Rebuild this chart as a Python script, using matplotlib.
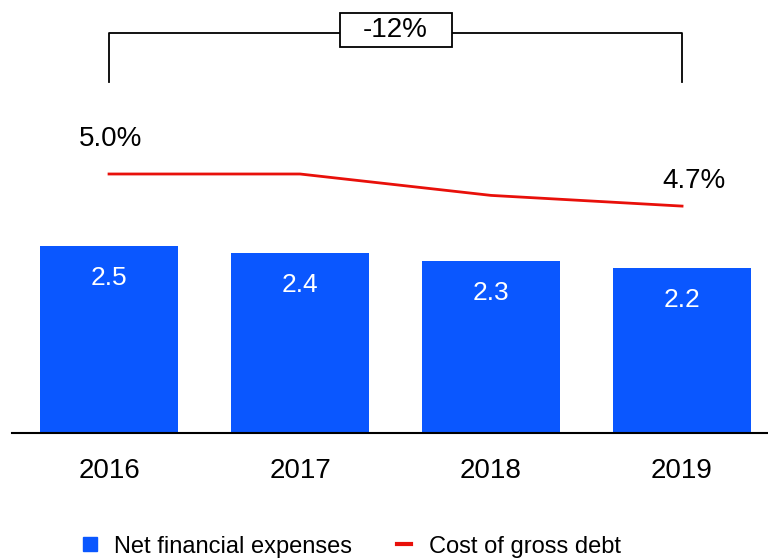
import numpy as np
import matplotlib
matplotlib.use("Agg")
import matplotlib.pyplot as plt
from matplotlib.lines import Line2D
from matplotlib.patches import Rectangle
import matplotlib.transforms as mtransforms

plt.rcParams['font.family'] = ['Liberation Sans', 'DejaVu Sans']

# data
years = ['2016', '2017', '2018', '2019']
net_fin_expenses = [2.5, 2.4, 2.3, 2.2]
cost_gross_debt = [5.0, 5.0, 4.8, 4.7]
change_label = '-12%'

bar_color = '#0A57FF'
line_color = '#E8100A'

fig = plt.figure(figsize=(7.68, 5.59), dpi=100)
W, H = 768, 559
base_px = 433
ax = fig.add_axes([12 / W, (H - base_px) / H, 1 - 12 / W, base_px / H])

x = np.arange(len(years))
ax.bar(x, net_fin_expenses, width=0.72, color=bar_color, zorder=2)
ax.set_xlim(-0.508, 3.45)
ax.set_ylim(0, base_px / 75)

for xi, v in zip(x, net_fin_expenses):
    ax.text(xi, v - 0.43, f'{v:.1f}', ha='center', va='center',
            color='white', fontsize=19)

# line on its own scale
ax2 = ax.twinx()
lo = 5.0 - 259 / 107
ax2.set_ylim(lo, lo + base_px / 107)
ax2.plot(x, cost_gross_debt, color=line_color, lw=2, zorder=3)
ax2.text(x[0] + 0.01, cost_gross_debt[0] + 0.33, f'{cost_gross_debt[0]:.1f}%',
         ha='center', va='center', fontsize=20)
ax2.text(x[-1] + 0.06, cost_gross_debt[-1] + 0.23, f'{cost_gross_debt[-1]:.1f}%',
         ha='center', va='center', fontsize=20)

for a in (ax, ax2):
    a.set_yticks([])
    for s in ('top', 'right', 'left'):
        a.spines[s].set_visible(False)
ax2.spines['bottom'].set_visible(False)
ax.spines['bottom'].set_linewidth(1.5)
ax.tick_params(axis='x', length=0, pad=18, labelsize=20)
ax.set_xticks(x)
ax.set_xticklabels(years)

# bracket on top
tr = mtransforms.blended_transform_factory(ax.transData, ax.transAxes)
y_top = (base_px - 33) / base_px
y_bot = (base_px - 82) / base_px
ax.plot([x[0], x[0], x[-1], x[-1]], [y_bot, y_top, y_top, y_bot],
        transform=tr, color='black', lw=1.3, clip_on=False)

# box around the change label, sized in pixels
xc = (x[0] + x[-1]) / 2
box_y = (base_px - 30) / base_px
cx, cy = tr.transform((xc, box_y))
box_tr = mtransforms.Affine2D().translate(cx - 56, cy - 17)
ax.add_patch(Rectangle((0, 0), 112, 34, fc='white', ec='black', lw=1.3,
                       clip_on=False, transform=box_tr, zorder=4))
ax.text(xc, box_y, change_label, transform=tr, ha='center', va='center',
        fontsize=20, zorder=5)

handles = [Line2D([0], [0], marker='s', color='none', markerfacecolor=bar_color,
                  markeredgecolor=bar_color, markersize=10),
           Line2D([0], [0], color=line_color, lw=3)]
fig.legend(handles, ['Net financial expenses', 'Cost of gross debt'],
           loc='center', bbox_to_anchor=(0.458, 0.022), ncol=2, frameon=False,
           fontsize=17, handlelength=0.6, handletextpad=0.75, columnspacing=1.9)

fig.savefig('out.png', dpi=100)
